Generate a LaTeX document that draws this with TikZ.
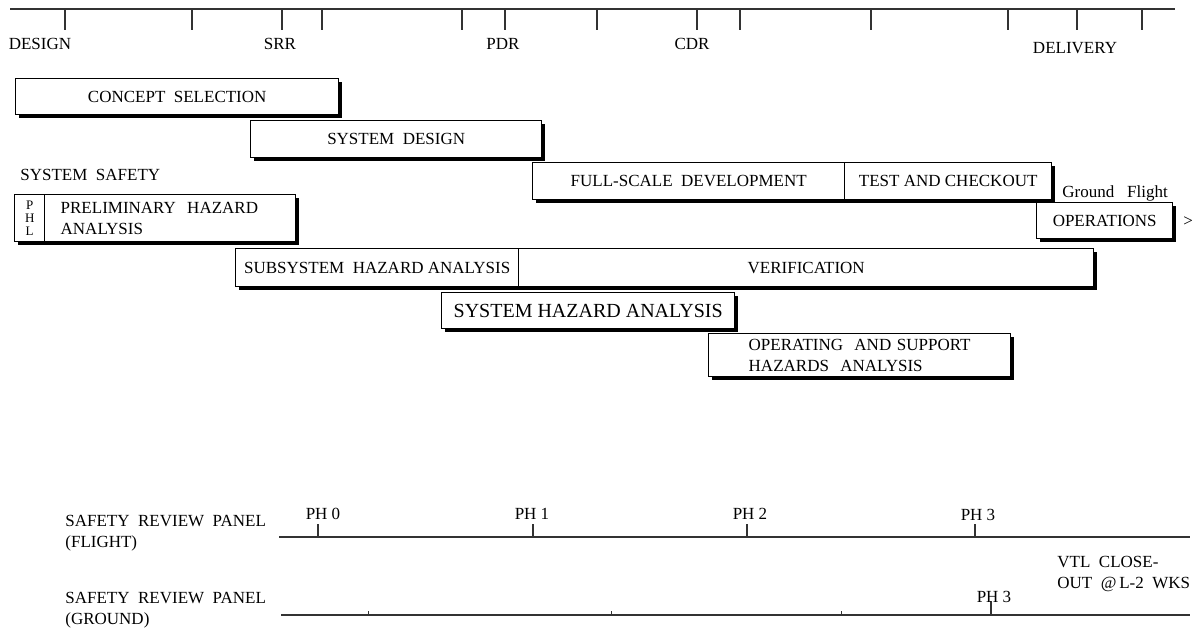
\documentclass[tikz,border=0pt]{standalone}
\usepackage{fontspec}
\setmainfont{Liberation Serif}
\usepackage{tikz}
\usetikzlibrary{shadows}

\begin{document}
\begin{tikzpicture}[x=0.5pt,y=-0.5pt,font=\fontsize{8.5}{10.5}\selectfont]
  \tikzstyle{bar}=[draw,fill=white,line width=0.7pt,anchor=north west,inner sep=0pt,minimum height=18.5pt,align=center,drop shadow={shadow xshift=1.7pt,shadow yshift=-1.7pt,fill=black,opacity=1}]
  \tikzstyle{lbl}=[inner sep=0pt]
  \tikzstyle{axis}=[line width=0.9pt,black!80]

  \useasboundingbox (0,0) rectangle (1193,633);

  % Program milestones
  \draw[axis] (10,9) -- (1175,9);
  \foreach \x in {65,192,282,322,462,505,597,697,740,871,1008,1077,1142}
    \draw[axis] (\x,9) -- (\x,30);
  \node[lbl] (design) at (40,44) {DESIGN};
  \node[lbl] (srr) at (280,44) {SRR};
  \node[lbl] (pdr) at (503,44) {PDR};
  \node[lbl] (cdr) at (692,44) {CDR};
  \node[lbl] (delivery) at (1075,48) {DELIVERY};

  % Program phases
  \node[bar,minimum width=161.5pt,minimum height=18pt] (concept) at (15,78) {CONCEPT\ \ SELECTION};
  \node[bar,minimum width=145.5pt] (sysdes) at (250,120) {SYSTEM\ \ DESIGN};
  \node[bar,minimum width=156pt] (fsd) at (532,162) {FULL-SCALE\ \ DEVELOPMENT};
  \node[bar,minimum width=103.5pt] (test) at (844,162) {TEST\ AND\ CHECKOUT};
  \node[lbl,anchor=west] (gndflt) at (1062,193) {Ground\ \ \ Flight};
  \node[bar,minimum width=68pt,minimum height=18pt] (ops) at (1036,202) {OPERATIONS};
  \node[lbl,anchor=west] (more) at (1183,222) {>};

  % System safety tasks
  \node[lbl,anchor=west] (safety) at (20,175) {SYSTEM\ \ SAFETY};
  \node[bar,minimum width=15pt,minimum height=23.5pt,font=\fontsize{6.5}{6.6}\selectfont] (phl) at (14,194) {P\\H\\L};
  \node[bar,minimum width=125.5pt,minimum height=23.5pt,text width=109.5pt,inner xsep=8pt,align=left] (pha) at (44,194) {PRELIMINARY\ \ HAZARD\\ANALYSIS};
  \node[bar,minimum width=141.5pt,minimum height=19pt] (ssha) at (235,248) {SUBSYSTEM\ \ HAZARD\ ANALYSIS};
  \node[bar,minimum width=287.5pt,minimum height=19pt] (verif) at (518,248) {VERIFICATION};
  \node[bar,minimum width=146.5pt,minimum height=18pt,font=\fontsize{10}{12}\selectfont] (sha) at (441,292) {SYSTEM HAZARD ANALYSIS};
  \node[bar,minimum width=151pt,minimum height=21.5pt,text width=111pt,inner xsep=20pt,align=left] (osha) at (708,333) {OPERATING\ \ AND SUPPORT\\HAZARDS\ \ ANALYSIS};

  % Safety review panels
  \node[lbl,anchor=west,align=left] (srpf) at (65,533) {SAFETY\ \ REVIEW\ \ PANEL\\(FLIGHT)};
  \draw[axis] (279,537) -- (1190,537);
  \foreach \x in {318,533,747,975}
    \draw[axis,line width=0.7pt] (\x,537) -- (\x,524);
  \node[lbl] (ph0) at (323,514) {PH 0};
  \node[lbl] (ph1) at (532,514) {PH 1};
  \node[lbl] (ph2) at (750,514) {PH 2};
  \node[lbl] (ph3f) at (978,515) {PH 3};

  \node[lbl,anchor=west,align=left] (vtl) at (1057,574) {VTL\ \ CLOSE-\\OUT\ \ @\,L-2\ \ WKS};

  \node[lbl,anchor=west,align=left] (srpg) at (65,610) {SAFETY\ \ REVIEW\ \ PANEL\\(GROUND)};
  \draw[axis] (281,615) -- (1190,615);
  \foreach \x in {368,611,841}
    \draw[axis,line width=0.5pt] (\x,615) -- (\x,611);
  \draw[axis,line width=0.7pt] (991,615) -- (991,601);
  \node[lbl] (ph3g) at (994,597) {PH 3};
\end{tikzpicture}
\end{document}
